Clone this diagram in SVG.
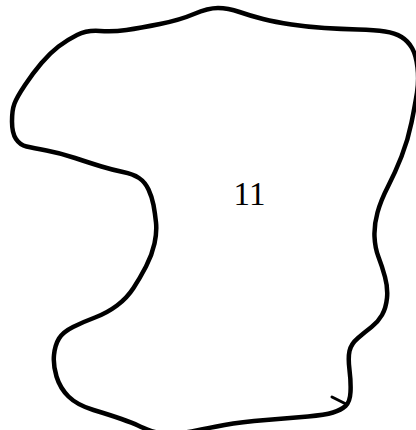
<svg xmlns="http://www.w3.org/2000/svg" width="416" height="430" viewBox="0 0 416 430">
<style>
.outline{fill:none;stroke:#000;stroke-width:4.5;stroke-linecap:round;stroke-linejoin:round}
.lbl{font-family:"Liberation Serif","Times New Roman",serif;font-size:33px;fill:#000;text-anchor:middle}
</style>
<rect width="416" height="430" fill="#fff"/>
<g id="region-11">
<path class="outline" d="M 194,14 Q 208,8 218,8 Q 228,8 239.5,12 Q 251,16 263,19 Q 275,22 291.5,24.5 Q 308,27 324.5,28 Q 341,29 358,29.5 Q 375,30 385,31.5 Q 395,33 401.5,37 Q 408,41 412,48 Q 416,55 417.5,67.5 Q 419,80 417,92.5 Q 415,105 411.5,122.5 Q 408,140 401.5,156.5 Q 395,173 388,186.5 Q 381,200 377.5,212.5 Q 374,225 374.5,236.5 Q 375,248 378.5,257 Q 382,266 385,277 Q 388,288 387,298 Q 386,308 382,315 Q 378,322 371.5,327 Q 365,332 358,338 Q 351,344 349.5,351 Q 348,358 349.5,370 Q 351,382 350.5,392 Q 350,402 345.5,406 Q 341,410 333,412.5 Q 325,415 308,416.5 Q 291,418 266,420 Q 241,422 224.5,425 Q 208,428 196.5,430.5 Q 185,433 172.5,433.5 Q 160,434 151.5,431 Q 143,428 138,425.5 Q 133,423 121.5,419 Q 110,415 93.5,410 Q 77,405 68.5,396.5 Q 60,388 56.5,376.5 Q 53,365 54,355 Q 55,345 59,338.5 Q 63,332 73,327 Q 83,322 95,317.5 Q 107,313 117,305.5 Q 127,298 133.5,288 Q 140,278 146,266.5 Q 152,255 154.5,243.5 Q 157,232 156,222.5 Q 155,213 153.5,205 Q 152,197 148.5,189.5 Q 145,182 139,178 Q 133,174 123,172 Q 113,170 101.5,166.5 Q 90,163 75,158 Q 60,153 46.5,150.5 Q 33,148 26.5,146.5 Q 20,145 16,139 Q 12,133 12,121.5 Q 12,110 14.5,103.5 Q 17,97 25,85 Q 33,73 41.5,63 Q 50,53 58.5,46.5 Q 67,40 77,35 Q 87,30 100,31 Q 113,32 126.5,30 Q 140,28 160,24 Q 180,20 194,14 Z"/>
<path class="outline" d="M 332,397 L 346,404" style="stroke-width:3"/>
<text class="lbl" x="249.5" y="205">11</text>
</g>
</svg>
